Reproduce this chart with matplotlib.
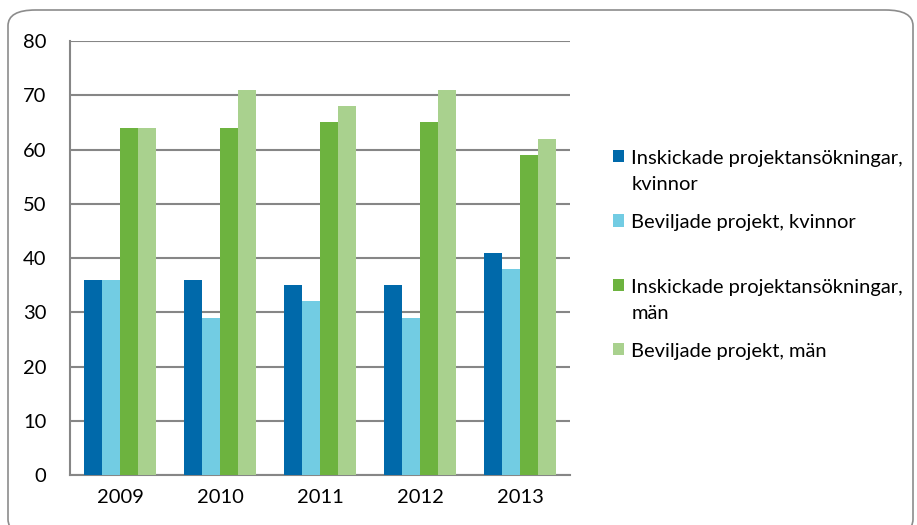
import matplotlib.pyplot as plt
from matplotlib.patches import FancyBboxPatch
import numpy as np

plt.rcParams['font.family'] = ['Lato', 'DejaVu Sans']

years = ['2009', '2010', '2011', '2012', '2013']
inskickade_kvinnor = [36, 36, 35, 35, 41]
beviljade_kvinnor = [36, 29, 32, 29, 38]
inskickade_man = [64, 64, 65, 65, 59]
beviljade_man = [64, 71, 68, 71, 62]

labels = ['Inskickade projektansökningar,\nkvinnor',
          'Beviljade projekt, kvinnor\n\u00a0',
          'Inskickade projektansökningar,\nmän',
          'Beviljade projekt, män']
colors = ['#0069AA', '#72CCE3', '#6DB33F', '#A9D18E']
series = [inskickade_kvinnor, beviljade_kvinnor, inskickade_man, beviljade_man]

fig = plt.figure(figsize=(9.17, 5.25), dpi=100)
ax = fig.add_axes([0.0763, 0.0952, 0.5453, 0.8267])

# rounded chart border
border = FancyBboxPatch((8 / 917, -10 / 525), 905 / 917, 525 / 525,
                        boxstyle='round,pad=0,rounding_size=0.03',
                        transform=fig.transFigure, facecolor='none',
                        edgecolor='#8c8c8c', linewidth=1.2, zorder=-1)
fig.patches.append(border)

x = np.arange(len(years))
w = 0.182
for i, (vals, col, lab) in enumerate(zip(series, colors, labels)):
    ax.bar(x + (i - 1.5) * w, vals, w, color=col, label=lab, zorder=3)

ax.set_xlim(-0.5, 4.5)
ax.set_ylim(0, 80)
ax.set_yticks(range(0, 81, 10))
ax.set_xticks(x)
ax.set_xticklabels(years)
ax.grid(axis='y', color='#868686', linewidth=1.5, zorder=0)
for s in ['top', 'right']:
    ax.spines[s].set_visible(False)
ax.spines['left'].set_color('#868686')
ax.spines['bottom'].set_color('#868686')
ax.spines['left'].set_linewidth(1.5)
ax.spines['bottom'].set_linewidth(1.5)
ax.tick_params(axis='y', length=0, pad=17, labelsize=14.5)
ax.tick_params(axis='x', length=0, pad=10, labelsize=14.5)

leg = ax.legend(loc='upper left', bbox_to_anchor=(1.07, 0.767), frameon=False,
                fontsize=14.5, handlelength=0.55, handleheight=0.55,
                handletextpad=0.35, labelspacing=1.05, borderaxespad=0)
for t in leg.get_texts():
    t.set_linespacing(1.65)
for col in leg._legend_handle_box.get_children():
    col.align = 'left'
    for hp in col.get_children():
        hp.align = 'top'

fig.savefig('out.png', dpi=100)
